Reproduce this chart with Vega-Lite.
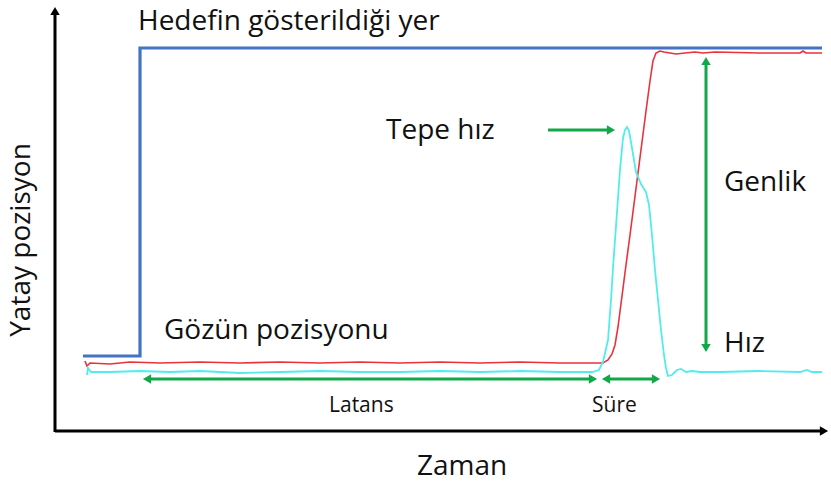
{
  "$schema": "https://vega.github.io/schema/vega-lite/v6.json",
  "autosize": {"type": "fit", "contains": "padding"},
  "width": 831,
  "height": 485,
  "padding": 0,
  "background": "white",
  "config": {"view": {"stroke": null}},
  "datasets": {
    "lines": [
      {"s": "target", "o": 1, "t": 83, "p": 356},
      {"s": "target", "o": 2, "t": 140, "p": 356},
      {"s": "target", "o": 3, "t": 140, "p": 48},
      {"s": "target", "o": 4, "t": 822, "p": 48},

      {"s": "eye", "o": 1, "t": 85, "p": 361},
      {"s": "eye", "o": 2, "t": 87, "p": 366},
      {"s": "eye", "o": 3, "t": 90, "p": 363},
      {"s": "eye", "o": 4, "t": 110, "p": 364},
      {"s": "eye", "o": 5, "t": 130, "p": 362},
      {"s": "eye", "o": 6, "t": 160, "p": 363},
      {"s": "eye", "o": 7, "t": 200, "p": 362},
      {"s": "eye", "o": 8, "t": 240, "p": 363},
      {"s": "eye", "o": 9, "t": 280, "p": 362},
      {"s": "eye", "o": 10, "t": 320, "p": 363},
      {"s": "eye", "o": 11, "t": 360, "p": 362},
      {"s": "eye", "o": 12, "t": 400, "p": 363},
      {"s": "eye", "o": 13, "t": 440, "p": 362},
      {"s": "eye", "o": 14, "t": 480, "p": 363},
      {"s": "eye", "o": 15, "t": 520, "p": 362},
      {"s": "eye", "o": 16, "t": 560, "p": 363},
      {"s": "eye", "o": 17, "t": 603, "p": 363},
      {"s": "eye", "o": 18, "t": 608, "p": 360},
      {"s": "eye", "o": 19, "t": 612, "p": 354},
      {"s": "eye", "o": 20, "t": 615, "p": 345},
      {"s": "eye", "o": 21, "t": 618, "p": 327},
      {"s": "eye", "o": 22, "t": 622, "p": 296},
      {"s": "eye", "o": 23, "t": 626, "p": 265},
      {"s": "eye", "o": 24, "t": 630, "p": 235},
      {"s": "eye", "o": 25, "t": 634, "p": 204},
      {"s": "eye", "o": 26, "t": 638, "p": 173},
      {"s": "eye", "o": 27, "t": 642, "p": 142},
      {"s": "eye", "o": 28, "t": 646, "p": 111},
      {"s": "eye", "o": 29, "t": 650, "p": 81},
      {"s": "eye", "o": 30, "t": 653, "p": 61},
      {"s": "eye", "o": 31, "t": 656, "p": 53},
      {"s": "eye", "o": 32, "t": 660, "p": 51},
      {"s": "eye", "o": 33, "t": 664, "p": 52},
      {"s": "eye", "o": 34, "t": 670, "p": 53},
      {"s": "eye", "o": 35, "t": 676, "p": 54},
      {"s": "eye", "o": 36, "t": 685, "p": 53},
      {"s": "eye", "o": 37, "t": 695, "p": 52},
      {"s": "eye", "o": 38, "t": 703, "p": 53},
      {"s": "eye", "o": 39, "t": 715, "p": 52},
      {"s": "eye", "o": 40, "t": 760, "p": 53},
      {"s": "eye", "o": 41, "t": 800, "p": 53},
      {"s": "eye", "o": 42, "t": 803, "p": 51},
      {"s": "eye", "o": 43, "t": 806, "p": 53},
      {"s": "eye", "o": 44, "t": 822, "p": 53},

      {"s": "vel", "o": 1, "t": 87, "p": 375},
      {"s": "vel", "o": 2, "t": 88, "p": 368},
      {"s": "vel", "o": 3, "t": 91, "p": 372},
      {"s": "vel", "o": 4, "t": 110, "p": 372},
      {"s": "vel", "o": 5, "t": 140, "p": 371},
      {"s": "vel", "o": 6, "t": 170, "p": 372},
      {"s": "vel", "o": 7, "t": 200, "p": 371},
      {"s": "vel", "o": 8, "t": 240, "p": 373},
      {"s": "vel", "o": 9, "t": 280, "p": 372},
      {"s": "vel", "o": 10, "t": 320, "p": 371},
      {"s": "vel", "o": 11, "t": 360, "p": 372},
      {"s": "vel", "o": 12, "t": 400, "p": 372},
      {"s": "vel", "o": 13, "t": 440, "p": 371},
      {"s": "vel", "o": 14, "t": 480, "p": 372},
      {"s": "vel", "o": 15, "t": 520, "p": 371},
      {"s": "vel", "o": 16, "t": 560, "p": 372},
      {"s": "vel", "o": 17, "t": 592, "p": 372},
      {"s": "vel", "o": 18, "t": 599, "p": 370},
      {"s": "vel", "o": 19, "t": 603, "p": 362},
      {"s": "vel", "o": 20, "t": 608, "p": 340},
      {"s": "vel", "o": 21, "t": 611, "p": 300},
      {"s": "vel", "o": 22, "t": 613, "p": 268},
      {"s": "vel", "o": 23, "t": 615, "p": 240},
      {"s": "vel", "o": 24, "t": 618, "p": 198},
      {"s": "vel", "o": 25, "t": 620, "p": 170},
      {"s": "vel", "o": 26, "t": 623, "p": 138},
      {"s": "vel", "o": 27, "t": 625, "p": 130},
      {"s": "vel", "o": 28, "t": 627, "p": 127},
      {"s": "vel", "o": 29, "t": 629, "p": 131},
      {"s": "vel", "o": 30, "t": 632, "p": 148},
      {"s": "vel", "o": 31, "t": 636, "p": 172},
      {"s": "vel", "o": 32, "t": 641, "p": 184},
      {"s": "vel", "o": 33, "t": 646, "p": 192},
      {"s": "vel", "o": 34, "t": 649, "p": 205},
      {"s": "vel", "o": 35, "t": 652, "p": 235},
      {"s": "vel", "o": 36, "t": 655, "p": 270},
      {"s": "vel", "o": 37, "t": 658, "p": 300},
      {"s": "vel", "o": 38, "t": 661, "p": 330},
      {"s": "vel", "o": 39, "t": 664, "p": 355},
      {"s": "vel", "o": 40, "t": 666, "p": 368},
      {"s": "vel", "o": 41, "t": 668, "p": 376},
      {"s": "vel", "o": 42, "t": 672, "p": 375},
      {"s": "vel", "o": 43, "t": 677, "p": 370},
      {"s": "vel", "o": 44, "t": 681, "p": 369},
      {"s": "vel", "o": 45, "t": 686, "p": 372},
      {"s": "vel", "o": 46, "t": 692, "p": 371},
      {"s": "vel", "o": 47, "t": 700, "p": 372},
      {"s": "vel", "o": 48, "t": 720, "p": 372},
      {"s": "vel", "o": 49, "t": 760, "p": 371},
      {"s": "vel", "o": 50, "t": 800, "p": 372},
      {"s": "vel", "o": 51, "t": 807, "p": 370},
      {"s": "vel", "o": 52, "t": 812, "p": 372},
      {"s": "vel", "o": 53, "t": 822, "p": 372}
    ],
    "shafts": [
      {"g": "axis", "t": 55, "t2": 55, "p": 432, "p2": 12},
      {"g": "axis", "t": 55, "t2": 822, "p": 431, "p2": 431},
      {"g": "green", "t": 148, "t2": 592, "p": 379, "p2": 379},
      {"g": "green", "t": 606, "t2": 656, "p": 379, "p2": 379},
      {"g": "green", "t": 706, "t2": 706, "p": 62, "p2": 348},
      {"g": "green", "t": 548, "t2": 610, "p": 130, "p2": 130}
    ],
    "heads": [
      {"g": "axis", "d": "up", "t": 55, "p": 11},
      {"g": "axis", "d": "right", "t": 824, "p": 431},
      {"g": "green", "d": "left", "t": 147, "p": 379},
      {"g": "green", "d": "right", "t": 593, "p": 379},
      {"g": "green", "d": "left", "t": 606, "p": 379},
      {"g": "green", "d": "right", "t": 656, "p": 379},
      {"g": "green", "d": "up", "t": 706, "p": 61},
      {"g": "green", "d": "down", "t": 706, "p": 348},
      {"g": "green", "d": "right", "t": 611, "p": 130}
    ],
    "bigLabels": [
      {"label": "Hedefin gösterildiği yer", "t": 138, "p": 22},
      {"label": "Tepe hız", "t": 386, "p": 131},
      {"label": "Genlik", "t": 724, "p": 183},
      {"label": "Hız", "t": 724, "p": 344},
      {"label": "Gözün pozisyonu", "t": 164, "p": 331}
    ],
    "smallLabels": [
      {"label": "Latans", "t": 329, "p": 406},
      {"label": "Süre", "t": 592, "p": 406}
    ],
    "titles": [
      {"label": "Zaman", "t": 462, "p": 467, "rot": 0},
      {"label": "Yatay pozisyon", "t": 22, "p": 240, "rot": 270}
    ]
  },
  "layer": [
    {
      "data": {"name": "shafts"},
      "mark": {"type": "rule", "strokeWidth": 3},
      "encoding": {
        "x": {"field": "t", "type": "quantitative", "scale": {"domain": [0, 831], "nice": false, "zero": false}, "axis": null},
        "x2": {"field": "t2"},
        "y": {"field": "p", "type": "quantitative", "scale": {"domain": [485, 0], "nice": false, "zero": false}, "axis": null},
        "y2": {"field": "p2"},
        "color": {"field": "g", "type": "nominal", "scale": {"domain": ["axis", "green"], "range": ["#000000", "#12a84a"]}, "legend": null}
      }
    },
    {
      "data": {"name": "heads"},
      "mark": {"type": "point", "filled": true, "opacity": 1, "size": 90},
      "encoding": {
        "x": {"field": "t", "type": "quantitative"},
        "y": {"field": "p", "type": "quantitative"},
        "shape": {"field": "d", "type": "nominal", "scale": {"domain": ["up", "down", "left", "right"], "range": ["triangle-up", "triangle-down", "triangle-left", "triangle-right"]}, "legend": null},
        "color": {"field": "g", "type": "nominal", "legend": null}
      }
    },
    {
      "data": {"name": "lines"},
      "transform": [{"filter": "datum.s === 'target'"}],
      "mark": {"type": "line", "strokeWidth": 3.2, "color": "#4472c4", "strokeJoin": "miter"},
      "encoding": {
        "x": {"field": "t", "type": "quantitative"},
        "y": {"field": "p", "type": "quantitative"},
        "order": {"field": "o", "type": "quantitative"}
      }
    },
    {
      "data": {"name": "lines"},
      "transform": [{"filter": "datum.s === 'eye'"}],
      "mark": {"type": "line", "strokeWidth": 1.6, "color": "#e8323c"},
      "encoding": {
        "x": {"field": "t", "type": "quantitative"},
        "y": {"field": "p", "type": "quantitative"},
        "order": {"field": "o", "type": "quantitative"}
      }
    },
    {
      "data": {"name": "lines"},
      "transform": [{"filter": "datum.s === 'vel'"}],
      "mark": {"type": "line", "strokeWidth": 1.8, "color": "#52ecec"},
      "encoding": {
        "x": {"field": "t", "type": "quantitative"},
        "y": {"field": "p", "type": "quantitative"},
        "order": {"field": "o", "type": "quantitative"}
      }
    },
    {
      "data": {"name": "bigLabels"},
      "mark": {"type": "text", "align": "left", "baseline": "middle", "font": "Open Sans", "fontSize": 28, "color": "#111111"},
      "encoding": {
        "x": {"field": "t", "type": "quantitative"},
        "y": {"field": "p", "type": "quantitative"},
        "text": {"field": "label"}
      }
    },
    {
      "data": {"name": "smallLabels"},
      "mark": {"type": "text", "align": "left", "baseline": "middle", "font": "Open Sans", "fontSize": 21, "color": "#111111"},
      "encoding": {
        "x": {"field": "t", "type": "quantitative"},
        "y": {"field": "p", "type": "quantitative"},
        "text": {"field": "label"}
      }
    },
    {
      "data": {"name": "titles"},
      "mark": {"type": "text", "align": "center", "baseline": "middle", "font": "Open Sans", "fontSize": 28, "color": "#111111"},
      "encoding": {
        "x": {"field": "t", "type": "quantitative"},
        "y": {"field": "p", "type": "quantitative"},
        "text": {"field": "label"},
        "angle": {"field": "rot", "type": "quantitative", "scale": null}
      }
    }
  ]
}
